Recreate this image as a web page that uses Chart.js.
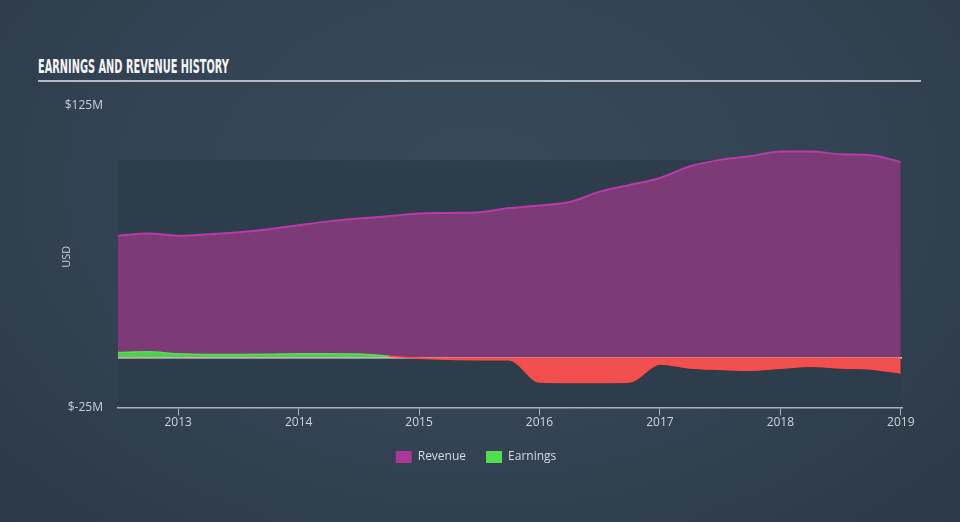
<!DOCTYPE html>
<html>
<head>
<meta charset="utf-8">
<script src="https://cdn.jsdelivr.net/npm/chart.js@4.4.1/dist/chart.umd.min.js"></script>
<style>
  html, body { margin: 0; padding: 0; }
  body {
    width: 960px; height: 522px; overflow: hidden; position: relative;
    background: radial-gradient(ellipse at 50% 35%, #38495a 0%, #334353 55%, #2c3946 100%);
  }
  #title {
    position: absolute; left: 38px; top: 55px;
    font-family: "Liberation Sans Narrow", "DejaVu Sans Condensed", sans-serif;
    font-weight: bold; font-size: 20px; line-height: 22px; color: #f4f5f6;
    white-space: nowrap; transform-origin: left top;
  }
  #rule { position: absolute; left: 38px; top: 80px; width: 883px; height: 2px; background: #b4bac2; }
  canvas { position: absolute; left: 0; top: 0; }
</style>
</head>
<body>
<div id="title">EARNINGS AND REVENUE HISTORY</div>
<div id="rule"></div>
<canvas id="chart" width="960" height="522"></canvas>
<script>
// quarterly points, decimal years
const years = [2012.5, 2012.75, 2013.0, 2013.25, 2013.5, 2013.75, 2014.0, 2014.25, 2014.5,
  2014.75, 2015.0, 2015.25, 2015.5, 2015.75, 2016.0, 2016.25, 2016.5, 2016.75, 2017.0,
  2017.25, 2017.5, 2017.75, 2018.0, 2018.25, 2018.5, 2018.75, 2019.0];
// values in $M
const revenue = [60.5, 61.6, 60.5, 61.2, 62.2, 63.7, 65.7, 67.6, 69.0, 70.2, 71.5, 71.8, 72.2,
  74.2, 75.5, 77.2, 82.4, 85.7, 89.2, 95.0, 98.2, 100.0, 102.4, 102.4, 101.0, 100.5, 97.2];
const earnings = [2.4, 2.7, 1.7, 1.4, 1.4, 1.5, 1.8, 1.8, 1.6, 0.5, -0.5, -1.0, -1.2,
  -1.3, -12.3, -12.5, -12.5, -12.3, -3.3, -5.3, -6.0, -6.5, -5.5, -4.5, -5.3, -5.8, -7.8];
const yearTicks = [2013, 2014, 2015, 2016, 2017, 2018, 2019];
const valueTicks = [-25, 0, 125];
const bandTop = 98;

// squeeze the title to the reference width
const title = document.getElementById("title");
title.style.transform = "scaleX(" + (191 / title.offsetWidth) + ")";

Chart.defaults.font.family = "'Open Sans', sans-serif";

const bandPlugin = {
  id: "band",
  beforeDraw(chart) {
    const { ctx, chartArea, scales } = chart;
    const top = scales.y.getPixelForValue(bandTop);
    ctx.save();
    ctx.fillStyle = "#2e3d4c";
    ctx.fillRect(chartArea.left, top, chartArea.right - chartArea.left, chartArea.bottom - top);
    ctx.restore();
  }
};

const green = "#58dd55";
const red = "#f24f4f";

new Chart(document.getElementById("chart").getContext("2d"), {
  type: "line",
  data: {
    datasets: [
      {
        label: "Earnings",
        data: years.map((x, i) => ({ x: x, y: earnings[i] })),
        borderWidth: 1.5,
        borderColor: green,
        backgroundColor: "#4fe04f",
        segment: {
          borderColor: c => (c.p0.parsed.y < 0 || c.p1.parsed.y < 0) ? "#ff4a4a" : green
        },
        fill: { target: "origin", above: "#4ccf4c", below: red },
        pointRadius: 0,
        cubicInterpolationMode: "monotone"
      },
      {
        label: "Revenue",
        data: years.map((x, i) => ({ x: x, y: revenue[i] })),
        borderWidth: 2,
        borderColor: "#b63ca8",
        backgroundColor: "#a8399b",
        fill: { target: "origin", above: "#7c3a77" },
        pointRadius: 0,
        cubicInterpolationMode: "monotone"
      }
    ]
  },
  options: {
    responsive: false,
    animation: false,
    layout: { padding: { left: 50, right: 58, top: 106, bottom: 49 } },
    plugins: {
      tooltip: { enabled: false },
      legend: {
        position: "bottom",
        reverse: true,
        labels: {
          boxWidth: 16, boxHeight: 12, padding: 20,
          color: "#d5dbe1", font: { size: 12 },
          generateLabels(chart) {
            const items = Chart.defaults.plugins.legend.labels.generateLabels(chart);
            items.forEach(it => {
              it.fillStyle = chart.data.datasets[it.datasetIndex].backgroundColor;
              it.strokeStyle = it.fillStyle;
              it.lineWidth = 0;
            });
            return items;
          }
        }
      }
    },
    scales: {
      x: {
        type: "linear",
        min: 2012.5,
        max: 2019.01,
        afterBuildTicks: s => { s.ticks = yearTicks.map(v => ({ value: v })); },
        afterFit: s => { s.height = 23.5; },
        ticks: { color: "#d0d5db", font: { size: 12 }, padding: 0, maxRotation: 0,
          callback: v => String(v) },
        grid: { drawOnChartArea: false, tickLength: 8, color: "#a9b3be" },
        border: { display: true, color: "#a9b3be", width: 1.5 }
      },
      y: {
        min: -25,
        max: 125,
        afterBuildTicks: s => { s.ticks = valueTicks.map(v => ({ value: v })); },
        afterFit: s => { s.width = 68; },
        ticks: { color: "#c8ced5", font: { size: 12 }, padding: 15,
          callback: v => v === 0 ? "" : "$" + v + "M" },
        grid: {
          drawTicks: false,
          color: c => c.tick && c.tick.value === 0 ? "#e6eaee" : "rgba(0,0,0,0)",
          lineWidth: 1.5
        },
        border: { display: false },
        title: { display: true, text: "USD", color: "#c8ced5", font: { size: 11 },
          padding: { top: 10, bottom: 0 } }
      }
    }
  },
  plugins: [bandPlugin]
});
</script>
</body>
</html>
